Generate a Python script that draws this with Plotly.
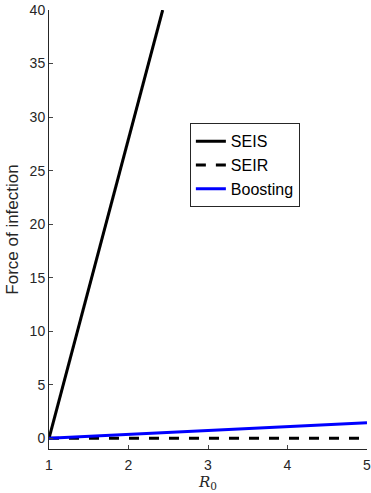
import plotly.graph_objects as go

seis_x = [1, 2.43]
seis_y = [0, 40]
seir_x = [1, 5]
seir_y = [0, 0]
boost_x = [1, 2, 3, 4, 5]
boost_y = [0, 0.37, 0.75, 1.08, 1.44]
x_ticks = [1, 2, 3, 4, 5]
y_ticks = [0, 5, 10, 15, 20, 25, 30, 35, 40]

fig = go.Figure()
fig.add_trace(go.Scatter(x=seis_x, y=seis_y, mode="lines", name="SEIS",
                         line=dict(color="black", width=3)))
fig.add_trace(go.Scatter(x=seir_x, y=seir_y, mode="lines", name="SEIR",
                         line=dict(color="black", width=3, dash="10px,10px")))
fig.add_trace(go.Scatter(x=boost_x, y=boost_y, mode="lines", name="Boosting",
                         line=dict(color="#0000ff", width=3)))

fig.update_layout(
    width=371, height=493,
    margin=dict(l=49, r=4, t=10, b=44),
    paper_bgcolor="white", plot_bgcolor="white",
    font=dict(family="Liberation Sans, Arial", size=14, color="#262626"),
    legend=dict(x=0.443, y=0.742, xanchor="left", yanchor="top",
                bordercolor="#262626", borderwidth=1, bgcolor="white",
                font=dict(size=16, color="black"), itemwidth=30,
                tracegroupgap=0),
    showlegend=True,
)
fig.update_xaxes(range=[1, 5], tickvals=x_ticks, ticks="inside", ticklen=4,
                 showline=True, linecolor="#262626", linewidth=1,
                 showgrid=False, zeroline=False, automargin=False,
                 ticklabelstandoff=3, ticklabeloverflow="allow",
                 title=dict(text="<i>R</i><sub>0</sub>",
                            font=dict(family="DejaVu Serif, Liberation Serif", size=15),
                            standoff=4))
fig.update_yaxes(range=[-1, 40], tickvals=y_ticks, ticks="inside", ticklen=4,
                 showline=True, linecolor="#262626", linewidth=1,
                 showgrid=False, zeroline=False, automargin=False,
                 ticklabeloverflow="allow",
                 title=dict(text="Force of infection", font=dict(size=17), standoff=6))

fig.write_html("out.html")
